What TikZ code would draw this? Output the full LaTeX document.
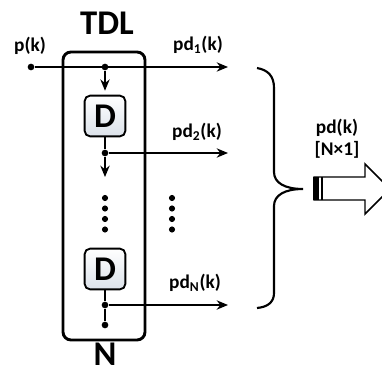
\documentclass[tikz,border=0pt]{standalone}
\usepackage{fontspec}
\setmainfont{Carlito}
\usetikzlibrary{positioning,calc,arrows.meta}
\definecolor{dtop}{HTML}{FFFFFF}
\definecolor{dbot}{HTML}{DCE2EA}

\begin{document}
\begin{tikzpicture}[
  x=0.75pt, y=-0.75pt,
  font=\bfseries\fontsize{14.5}{16}\selectfont,
  tdlbox/.style={rectangle, rounded corners=6pt, draw, line width=2.2pt,
    minimum width=61.5pt, minimum height=216pt, inner sep=0pt},
  delay/.style={rectangle, rounded corners=4pt, draw, line width=1.4pt,
    minimum size=30.5pt, inner sep=0pt, top color=dtop, bottom color=dbot,
    font=\bfseries\fontsize{26}{28}\selectfont},
  tap/.style={circle, fill, inner sep=0pt, minimum size=5pt},
  bigtxt/.style={font=\bfseries\fontsize{26}{28}\selectfont},
  sig/.style={line width=1.1pt, -{Stealth[length=8.5pt, width=7pt]}},
  wire/.style={line width=1.1pt},
]
\useasboundingbox (0,0) rectangle (382,370);

% delay line box
\node[tdlbox] (tdl) at (104,196) {};
\node[bigtxt] (tdltxt) at (107,23) {TDL};
\node[bigtxt, inner sep=0pt, anchor=north] (ntxt) at (105,343) {N};

% taps and delays
\node[tap] (in) at (31,67) {};
\node[tap] (t1) at (105,67) {};
\node[delay] (d1) at (105,116) {D};
\node[tap] (t2) at (105,153) {};
\node[delay] (d2) at (105,269) {D};
\node[tap] (t3) at (105,305) {};
\node[tap] (tend) at (105,325) {};

\coordinate (o1) at (228,67);
\coordinate (o2) at (228,153);
\coordinate (o3) at (228,305);
\coordinate (v1) at (105,177);

\node (pin) at (30,46) {p(k)};
\node (pd1) at (198,45) {pd\textsubscript{1}(k)};
\node (pd2) at (197,132) {pd\textsubscript{2}(k)};
\node (pdn) at (195,283) {pd\textsubscript{N}(k)};

\draw[sig] (in) -- (o1);
\draw[sig, shorten >=3pt] (t1) -- (d1);
\draw[wire] (d1) -- (t2);
\draw[sig] (t2) -- (o2);
\draw[sig] (t2) -- (v1);
\draw[wire] (d2) -- (t3) -- (tend);
\draw[sig] (t3) -- (o3);

% vertical ellipsis
\foreach \yy in {198,208.5,219,229.5} {
  \fill (105,\yy) circle (2.3pt);
  \fill (172,\yy) circle (2.3pt);
}

% brace
\draw[line width=1.6pt] (257,68) .. controls (268,70) and (274,76) .. (274,88)
  -- (274,172) .. controls (274,183) and (285,189) .. (303,189)
  .. controls (285,189) and (274,195) .. (274,206)
  -- (274,293) .. controls (274,302) and (268,307) .. (257,308);

% output vector
\node (pdv) at (337,128) {pd(k)};
\node (dim) at (337,150) {[N×1]};
\draw[line width=1.1pt, fill=white] (314,177) -- (365,177) -- (365,164)
  -- (390,189) -- (365,214) -- (365,200) -- (314,200) -- cycle;
\fill (313,177) rectangle (319,200);
\draw[line width=0.9pt] (322,177) -- (322,200);
\end{tikzpicture}
\end{document}
